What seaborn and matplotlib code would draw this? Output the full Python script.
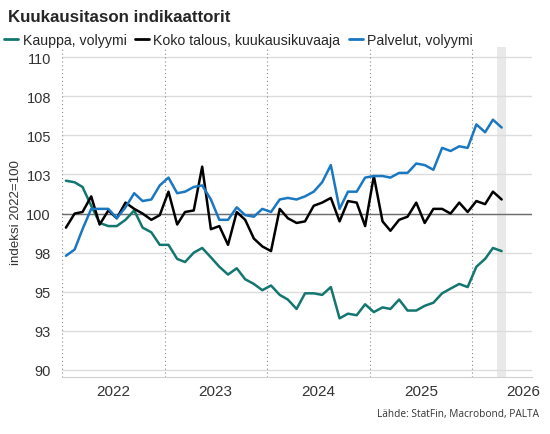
import numpy as np
import pandas as pd
import seaborn as sns
import matplotlib.pyplot as plt
import matplotlib.dates as mdates

# monthly values, Jan 2022 .. Apr 2026 (index 2022 = 100)
months = pd.date_range("2022-01-01", periods=52, freq="MS") + pd.Timedelta(days=14)

kauppa = [102.1, 102.0, 101.7, 100.5, 99.4, 99.2, 99.2, 99.6, 100.2, 99.1, 98.8, 98.0,
          98.0, 97.1, 96.9, 97.5, 97.8, 97.2, 96.6, 96.1, 96.5, 95.8, 95.5, 95.1,
          95.4, 94.8, 94.5, 93.9, 94.9, 94.9, 94.8, 95.3, 93.3, 93.6, 93.5, 94.2,
          93.7, 94.0, 93.9, 94.5, 93.8, 93.8, 94.1, 94.3, 94.9, 95.2, 95.5, 95.3,
          96.6, 97.1, 97.8, 97.6]
koko = [99.1, 100.0, 100.1, 101.1, 99.3, 100.2, 99.7, 100.7, 100.3, 100.0, 99.6, 99.9,
        101.4, 99.3, 100.1, 100.2, 103.0, 99.0, 99.2, 98.0, 100.1, 99.6, 98.4, 97.9,
        97.6, 100.3, 99.7, 99.4, 99.5, 100.5, 100.7, 101.0, 99.5, 100.8, 100.7, 99.2,
        102.4, 99.5, 98.9, 99.6, 99.8, 100.7, 99.4, 100.3, 100.3, 100.0, 100.7, 100.1,
        100.8, 100.6, 101.4, 100.9]
palvelut = [97.3, 97.7, 99.0, 100.3, 100.3, 100.3, 99.7, 100.4, 101.3, 100.8, 100.9, 101.8,
            102.3, 101.3, 101.4, 101.7, 101.8, 100.9, 99.6, 99.6, 100.4, 99.9, 99.8, 100.3,
            100.1, 100.9, 101.0, 100.9, 101.1, 101.4, 102.0, 103.1, 100.3, 101.4, 101.4, 102.3,
            102.4, 102.4, 102.3, 102.6, 102.6, 103.2, 103.1, 102.8, 104.2, 104.0, 104.3, 104.2,
            105.7, 105.2, 106.0, 105.5]

series_names = ["Kauppa, volyymi", "Koko talous, kuukausikuvaaja", "Palvelut, volyymi"]
colors = ["#13766f", "#000000", "#1a78c2"]
ytick_values = [90, 92.5, 95, 97.5, 100, 102.5, 105, 107.5, 110]
ytick_labels = ["90", "93", "95", "98", "100", "103", "105", "108", "110"]
years = [2022, 2023, 2024, 2025, 2026]

df = pd.DataFrame({"kk": months, series_names[0]: kauppa,
                   series_names[1]: koko, series_names[2]: palvelut})
long = df.melt(id_vars="kk", var_name="sarja", value_name="arvo")

sns.set_style("white")
plt.rcParams["font.family"] = ["Liberation Sans", "DejaVu Sans"]

fig = plt.figure(figsize=(5.5, 4.35), dpi=100)
ax = fig.add_axes([62 / 550, 1 - 378 / 435, 470 / 550, 330 / 435])

# shaded latest month
ax.axvspan(months[-1] - pd.Timedelta(days=15), months[-1] + pd.Timedelta(days=15),
           color="#e9e9e9", lw=0, zorder=0)

for v in ytick_values:
    ax.axhline(v, color="#dcdcdc", lw=1, zorder=1)
ax.axhline(100, color="#6e6e6e", lw=1, zorder=2)
for y in years:
    ax.axvline(pd.Timestamp(f"{y}-01-01"), color="#8a8a8a", lw=0.8, ls=(0, (1, 2.5)), zorder=1)

sns.lineplot(data=long, x="kk", y="arvo", hue="sarja", palette=colors,
             lw=1.8, ax=ax, legend=False, zorder=3)

ax.set_xlim(pd.Timestamp("2022-01-01"), pd.Timestamp("2026-08-01"))
ax.set_ylim(89.55, 110.65)
ax.set_yticks(ytick_values)
ax.set_yticklabels(ytick_labels)
ax.tick_params(axis="y", length=0, labelsize=10.5, labelcolor="#333333", pad=8)

ax.xaxis.set_major_locator(mdates.YearLocator())
ax.xaxis.set_major_formatter(plt.NullFormatter())
ax.xaxis.set_minor_locator(mdates.MonthLocator(bymonth=7))
ax.xaxis.set_minor_formatter(mdates.DateFormatter("%Y"))
ax.tick_params(axis="x", which="major", length=4, color="#444444", direction="out")
ax.tick_params(axis="x", which="minor", length=0, labelsize=11, labelcolor="#333333", pad=5)
for lab in ax.get_xticklabels(minor=True):
    lab.set_clip_on(False)

for s in ["top", "right", "left"]:
    ax.spines[s].set_visible(False)
ax.spines["bottom"].set_color("#d0d0d0")
ax.set_xlabel("")
ax.set_ylabel("indeksi 2022=100", fontsize=9.6, color="#333333", labelpad=3)

fig.text(8 / 550, 1 - 17 / 435, "Kuukausitason indikaattorit", fontsize=12.2,
         fontweight="bold", va="center", ha="left")

handles = [plt.Line2D([], [], color=c, lw=2) for c in colors]
fig.legend(handles, series_names, loc="center left", bbox_to_anchor=(0.0, 1 - 41 / 435),
           ncol=3, frameon=False, fontsize=10.2, handlelength=1.0, handletextpad=0.3,
           columnspacing=0.6, borderaxespad=0, borderpad=0.3)

fig.text(539 / 550, 1 - 415 / 435, "Lähde: StatFin, Macrobond, PALTA", fontsize=7.3,
         ha="right", va="center", color="#333333", family=["Open Sans", "DejaVu Sans"])

fig.savefig("out.png", dpi=100)
